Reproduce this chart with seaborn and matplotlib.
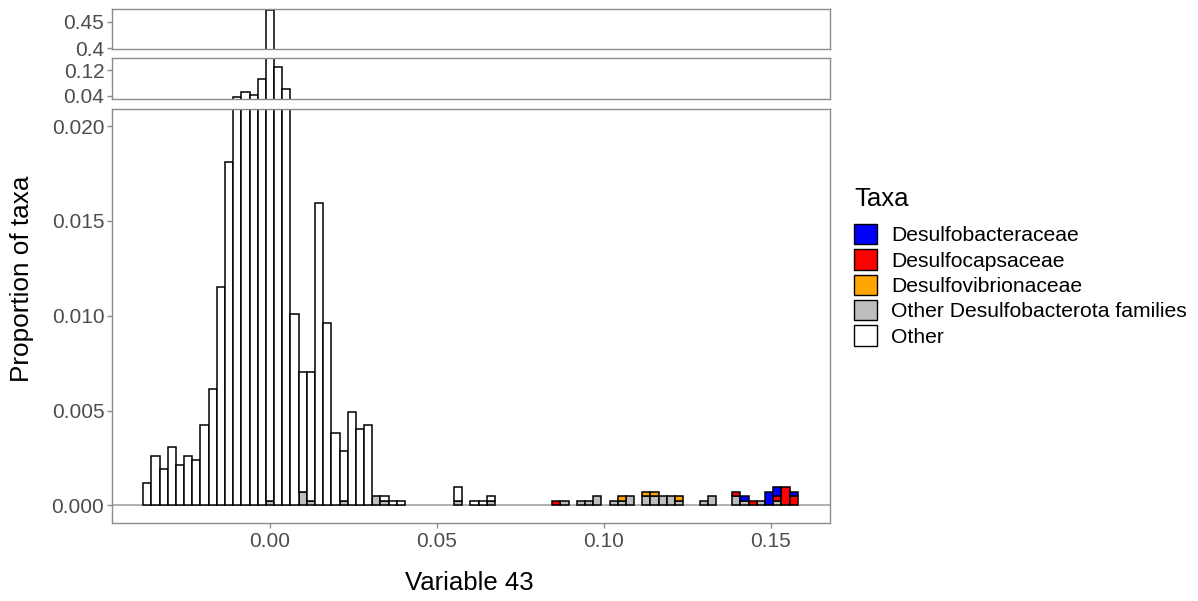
import numpy as np
import pandas as pd
import matplotlib
matplotlib.use("Agg")
import matplotlib.pyplot as plt
from matplotlib.patches import Patch
import seaborn as sns

# bin width of the histogram and bin index (bin centre = k * BINWIDTH)
BINWIDTH = 0.00245
bin_k = list(range(-15, 65))

# proportion of "Other" taxa per bin (k = -15 .. 64)
other = [0.00119, 0.0026, 0.0019, 0.00306, 0.00213, 0.0026, 0.00237, 0.00425,
         0.00612, 0.0115, 0.0181, 0.037, 0.052, 0.044, 0.093, 0.4718,
         0.129, 0.060, 0.0101, 0.00631, 0.00679, 0.01593, 0.00963, 0.0038,
         0.00261, 0.00494, 0.00401, 0.00425, 0.0, 0.00024, 0.00024, 0.00024,
         0, 0, 0, 0, 0, 0, 0.00073, 0,
         0.00024, 0.00024, 0.00024, 0, 0, 0, 0, 0,
         0, 0, 0, 0, 0, 0, 0, 0,
         0, 0, 0, 0, 0, 0, 0, 0,
         0, 0, 0, 0, 0, 0, 0, 0,
         0, 0, 0, 0, 0, 0, 0, 0]

# the Desulfobacterota families only occur in a few bins
grey_k = [0, 4, 5, 9, 13, 14, 23, 27, 36, 38, 39, 40, 42, 43, 44, 46, 47, 48, 49, 50, 53, 54, 57, 58, 60, 62]
grey_v = [0.00024, 0.00072, 0.00024, 0.00024, 0.00048, 0.00024, 0.00024, 0.00024, 0.00024, 0.00024,
          0.00024, 0.00048, 0.00024, 0.00024, 0.00048, 0.00048, 0.00048, 0.00048, 0.00048, 0.00024,
          0.00024, 0.00048, 0.00048, 0.00024, 0.00024, 0.00024]
orange_k = [43, 46, 47, 50]
orange_v = [0.00024, 0.00024, 0.00024, 0.00024]
red_k = [35, 57, 59, 62, 63, 64]
red_v = [0.00024, 0.00024, 0.00024, 0.00024, 0.00097, 0.00048]
blue_k = [58, 61, 62, 64]
blue_v = [0.00024, 0.00072, 0.00048, 0.00024]

taxa = ["Desulfobacteraceae", "Desulfocapsaceae", "Desulfovibrionaceae",
        "Other Desulfobacterota families", "Other"]
colours = ["#0000FF", "#FF0000", "#FFA500", "#BEBEBE", "#FFFFFF"]

# build long table: one row per bin and taxon, weighted by proportion
rows = []
for k, v in zip(bin_k, other):
    if v > 0:
        rows.append((k * BINWIDTH, "Other", v))
for name, ks, vs in [("Other Desulfobacterota families", grey_k, grey_v),
                     ("Desulfovibrionaceae", orange_k, orange_v),
                     ("Desulfocapsaceae", red_k, red_v),
                     ("Desulfobacteraceae", blue_k, blue_v)]:
    for k, v in zip(ks, vs):
        rows.append((k * BINWIDTH, name, v))
df = pd.DataFrame(rows, columns=["value", "taxa", "prop"])

bin_range = (-15.5 * BINWIDTH, 64.5 * BINWIDTH)
# stacking: first hue level ends up on top
hue_order = ["Other", "Desulfobacteraceae", "Desulfocapsaceae",
             "Desulfovibrionaceae", "Other Desulfobacterota families"]
palette = dict(zip(taxa, colours))

plt.rcParams["font.family"] = ["Liberation Sans", "DejaVu Sans"]
fig = plt.figure(figsize=(11.98, 6.01), dpi=100)

W, H = 1198, 601
def add_panel(top, bottom):
    return fig.add_axes([112 / W, 1 - bottom / H, (830 - 112) / W, (bottom - top) / H])

ax_top = add_panel(8.7, 48.7)
ax_mid = add_panel(58, 99.3)
ax_main = add_panel(109, 523)

for ax in [ax_top, ax_mid, ax_main]:
    sns.histplot(data=df, x="value", weights="prop", hue="taxa", hue_order=hue_order,
                 multiple="stack", binwidth=BINWIDTH, binrange=bin_range,
                 palette=palette, alpha=1,
                 edgecolor="black", linewidth=1.1, legend=False, ax=ax)
    # hide zero-height bars so that empty bins show no outline
    for p in ax.patches:
        if p.get_height() <= 0:
            p.set_visible(False)
    ax.set_xlim(-0.0473, 0.1677)
    ax.set_xlabel("")
    ax.set_ylabel("")
    ax.set_facecolor("white")
    for s in ax.spines.values():
        s.set_color("#8C8C8C")
        s.set_linewidth(1.0)
    ax.tick_params(axis="y", length=3.5, width=1, color="#8C8C8C",
                   labelsize=15, labelcolor="#4D4D4D", pad=2)

ax_main.axhline(0, color="#9A9A9A", lw=1.1, zorder=0)

ax_main.set_ylim(-0.00093, 0.0209)
ax_main.set_yticks([0, 0.005, 0.01, 0.015, 0.02])
ax_main.set_yticklabels(["0.000", "0.005", "0.010", "0.015", "0.020"])
ax_main.set_xticks([0, 0.05, 0.10, 0.15])
ax_main.set_xticklabels(["0.00", "0.05", "0.10", "0.15"])
ax_main.tick_params(axis="x", length=3.5, width=1, color="#8C8C8C",
                    labelsize=15, labelcolor="#4D4D4D", pad=3)

ax_mid.set_ylim(0.0298, 0.157)
ax_mid.set_yticks([0.04, 0.12])
ax_mid.set_yticklabels(["0.04", "0.12"])
ax_mid.set_xticks([])

ax_top.set_ylim(0.3995, 0.475)
ax_top.set_yticks([0.4, 0.45])
ax_top.set_yticklabels(["0.4", "0.45"])
ax_top.set_xticks([])

fig.text(469 / W, 1 - 583 / H, "Variable 43", ha="center", va="center", fontsize=18.5)
fig.text(22 / W, 1 - 279 / H, "Proportion of taxa", ha="center", va="center",
         rotation=90, fontsize=18.8)

# legend title as separate text, keys below it
fig.text(854 / W, 1 - 199 / H, "Taxa", ha="left", va="center", fontsize=18.5)
handles = [Patch(facecolor=c, edgecolor="black", linewidth=1.0) for c in colours]
leg = fig.legend(handles, taxa, loc="upper left",
                 bbox_to_anchor=(851 / W, 1 - 221 / H), frameon=False,
                 fontsize=15.2, handlelength=1.07,
                 handleheight=1.1, labelspacing=0.19, handletextpad=0.68,
                 borderaxespad=0, borderpad=0.15)

fig.savefig("out.png", dpi=100, facecolor="white")
